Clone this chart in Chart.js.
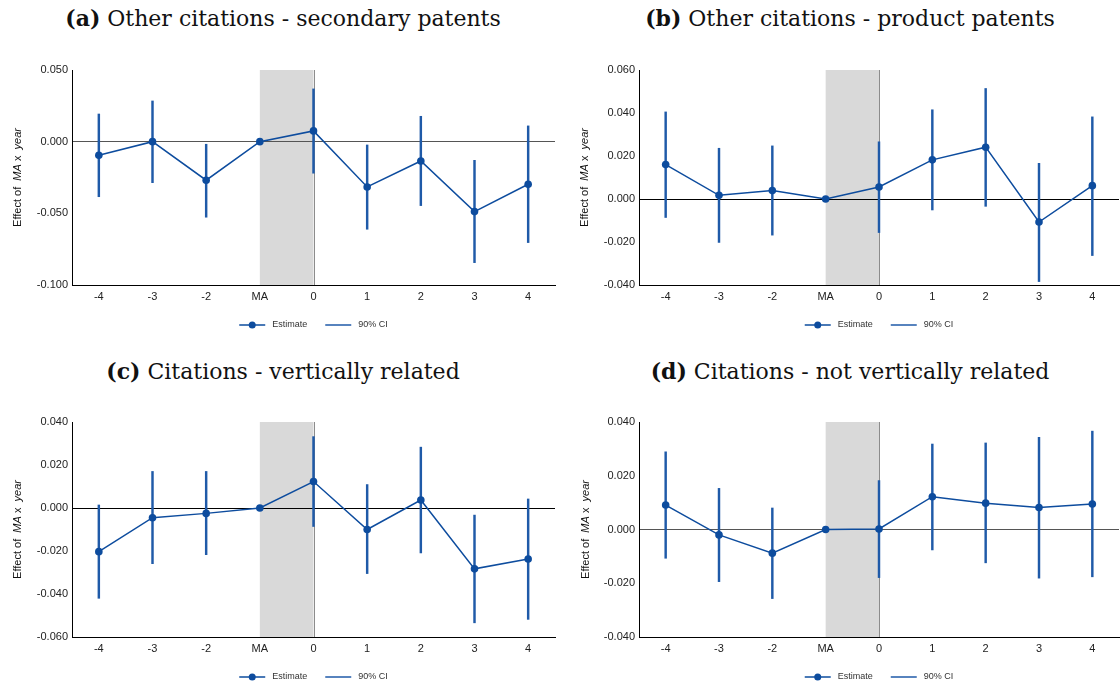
<!DOCTYPE html>
<html>
<head>
<meta charset="utf-8">
<script src="https://cdn.jsdelivr.net/npm/chart.js@4.4.1/dist/chart.umd.min.js"></script>
<style>
  html, body { margin: 0; padding: 0; background: #fff; overflow: hidden; }
  #wrap { position: relative; width: 1120px; height: 686px; }
  .ttl { position: absolute; font-family: "DejaVu Serif", serif; font-size: 22px; color: #111;
         text-align: center; line-height: 26px; white-space: nowrap; }
  canvas { position: absolute; }
</style>
</head>
<body>
<div id="wrap">
  <div class="ttl" style="left:0;top:5px;width:566px"><b>(a)</b> Other citations - secondary patents</div>
  <div class="ttl" style="left:580px;top:5px;width:540px"><b>(b)</b> Other citations - product patents</div>
  <div class="ttl" style="left:0;top:358px;width:566px"><b>(c)</b> Citations - vertically related</div>
  <div class="ttl" style="left:580px;top:358px;width:540px"><b>(d)</b> Citations - not vertically related</div>
  <canvas id="cA" width="560" height="305" style="left:0;top:40px"></canvas>
  <canvas id="cB" width="563" height="305" style="left:560px;top:40px"></canvas>
  <canvas id="cC" width="560" height="305" style="left:0;top:392px"></canvas>
  <canvas id="cD" width="563" height="305" style="left:560px;top:392px"></canvas>
</div>
<script>
// event-study periods around the merger (MA = reference year)
const periods = ['-4', '-3', '-2', 'MA', '0', '1', '2', '3', '4'];

// (a) other citations - secondary patents
const estA = [-0.0095, 0, -0.0269, 0, 0.0075, -0.0316, -0.0135, -0.0488, -0.0297];
const loA  = [-0.0384, -0.0286, -0.0527, null, -0.0220, -0.0611, -0.0446, -0.0844, -0.0704];
const hiA  = [0.0193, 0.0284, -0.0018, null, 0.0368, -0.0023, 0.0177, -0.0130, 0.0110];
const ticksA = [-0.100, 0.050, 0.050];

// (b) other citations - product patents
const estB = [0.0160, 0.0017, 0.0039, 0, 0.0056, 0.0182, 0.0241, -0.0107, 0.0062];
const loB  = [-0.0086, -0.0202, -0.0168, null, -0.0156, -0.0051, -0.0034, -0.0384, -0.0263];
const hiB  = [0.0405, 0.0236, 0.0247, null, 0.0266, 0.0415, 0.0514, 0.0166, 0.0382];
const ticksB = [-0.040, 0.060, 0.020];

// (c) citations - vertically related
const estC = [-0.0203, -0.0045, -0.0025, 0, 0.0123, -0.0100, 0.0037, -0.0283, -0.0237];
const loC  = [-0.0420, -0.0259, -0.0217, null, -0.0086, -0.0305, -0.0209, -0.0534, -0.0518];
const hiC  = [0.0014, 0.0170, 0.0170, null, 0.0332, 0.0109, 0.0283, -0.0033, 0.0042];
const ticksC = [-0.060, 0.040, 0.020];

// (d) citations - not vertically related
const estD = [0.0091, -0.0020, -0.0088, 0, 0.0002, 0.0122, 0.0098, 0.0082, 0.0095];
const loD  = [-0.0107, -0.0194, -0.0257, null, -0.0179, -0.0076, -0.0124, -0.0181, -0.0176];
const hiD  = [0.0289, 0.0153, 0.0080, null, 0.0182, 0.0318, 0.0322, 0.0343, 0.0366];
const ticksD = [-0.040, 0.040, 0.020];

const BLUE = '#0d4c9e';
const CI_BLUE = '#1f5aa8';
const SANS = '"Liberation Sans", Arial, sans-serif';

// grey band between MA and year 0, plus the vertical marker at 0
const bandPlugin = {
  id: 'band',
  beforeDraw(chart) {
    const { ctx, chartArea: a, scales: { x } } = chart;
    const x0 = x.getPixelForValue(3), x1 = x.getPixelForValue(4);
    ctx.save();
    ctx.fillStyle = '#d9d9d9';
    ctx.fillRect(x0, a.top, x1 - x0, a.bottom - a.top);
    ctx.strokeStyle = '#8c8c8c';
    ctx.lineWidth = 1;
    ctx.beginPath();
    ctx.moveTo(Math.round(x1) + 0.5, a.top);
    ctx.lineTo(Math.round(x1) + 0.5, a.bottom);
    ctx.stroke();
    ctx.restore();
  }
};

// rotated y title with italic pieces, and the small legend under the plot
const decorPlugin = {
  id: 'decor',
  afterDraw(chart, args, opts) {
    const { ctx, chartArea: a } = chart;
    ctx.save();
    // y title
    const parts = [['Effect of  ', false], ['MA', true], [' x  ', false], ['year', true]];
    const fnt = it => (it ? 'italic ' : '') + '11px ' + SANS;
    let tw = 0;
    parts.forEach(p => { ctx.font = fnt(p[1]); tw += ctx.measureText(p[0]).width; });
    ctx.translate(opts.titleX, (a.top + a.bottom) / 2);
    ctx.rotate(-Math.PI / 2);
    ctx.fillStyle = '#111';
    ctx.textBaseline = 'middle';
    let cx = -tw / 2;
    parts.forEach(p => { ctx.font = fnt(p[1]); ctx.fillText(p[0], cx, 0); cx += ctx.measureText(p[0]).width; });
    ctx.setTransform(1, 0, 0, 1, 0, 0);

    // legend
    ctx.font = '9px ' + SANS;
    const lab1 = 'Estimate', lab2 = '90% CI';
    const w1 = ctx.measureText(lab1).width, w2 = ctx.measureText(lab2).width;
    const total = 26 + 7 + w1 + 18 + 26 + 7 + w2;
    let lx = (a.left + a.right) / 2 - total / 2;
    const ly = a.bottom + 40;
    ctx.strokeStyle = BLUE;
    ctx.lineWidth = 1.5;
    ctx.beginPath(); ctx.moveTo(lx, ly); ctx.lineTo(lx + 26, ly); ctx.stroke();
    ctx.fillStyle = BLUE;
    ctx.beginPath(); ctx.arc(lx + 13, ly, 3.5, 0, Math.PI * 2); ctx.fill();
    lx += 33;
    ctx.fillStyle = '#333';
    ctx.textBaseline = 'middle';
    ctx.fillText(lab1, lx, ly);
    lx += w1 + 18;
    ctx.strokeStyle = CI_BLUE;
    ctx.beginPath(); ctx.moveTo(lx, ly); ctx.lineTo(lx + 26, ly); ctx.stroke();
    lx += 33;
    ctx.fillText(lab2, lx, ly);
    ctx.restore();
  }
};

function makePanel(id, est, lo, hi, ticks, axisW, padRight, titleX, zeroColor) {
  const ci = periods.map((_, i) => (lo[i] == null ? null : [lo[i], hi[i]]));
  return new Chart(document.getElementById(id), {
    type: 'bar',
    data: {
      labels: periods,
      datasets: [
        { type: 'line', label: 'Estimate', data: est, order: 0,
          borderColor: BLUE, borderWidth: 1.5, tension: 0,
          pointRadius: 3.8, pointBackgroundColor: BLUE, pointBorderWidth: 0 },
        { type: 'bar', label: '90% CI', data: ci, order: 1,
          backgroundColor: CI_BLUE, borderWidth: 0, barThickness: 1.8 }
      ]
    },
    options: {
      responsive: false,
      animation: false,
      events: [],
      layout: { padding: { top: 30, right: padRight, bottom: 0, left: 0 } },
      plugins: { legend: { display: false }, tooltip: { enabled: false },
                 decor: { titleX: titleX } },
      scales: {
        x: {
          type: 'category', offset: true,
          grid: { display: false, drawTicks: false },
          border: { display: true, color: '#000', width: 1 },
          ticks: { font: { family: SANS, size: 11 }, color: '#222', padding: 5 },
          afterFit: s => { s.height = 60; }
        },
        y: {
          min: ticks[0], max: ticks[1],
          grid: { drawTicks: false, lineWidth: 1,
                  color: c => (Math.abs(c.tick.value) < 1e-9 ? zeroColor : 'rgba(0,0,0,0)') },
          border: { display: true, color: '#000', width: 1 },
          ticks: { stepSize: ticks[2], padding: 4, font: { family: SANS, size: 11 }, color: '#222',
                   callback: v => (Math.abs(v) < 1e-9 ? 0 : v).toFixed(3) },
          afterFit: s => { s.width = axisW; }
        }
      }
    },
    plugins: [bandPlugin, decorPlugin]
  });
}

makePanel('cA', estA, loA, hiA, ticksA, 72, 5, 18, '#555');
makePanel('cB', estB, loB, hiB, ticksB, 79, 1, 25, '#000');
makePanel('cC', estC, loC, hiC, ticksC, 72, 5, 18, '#000');
makePanel('cD', estD, loD, hiD, ticksD, 79, 1, 26, '#555');
</script>
</body>
</html>
